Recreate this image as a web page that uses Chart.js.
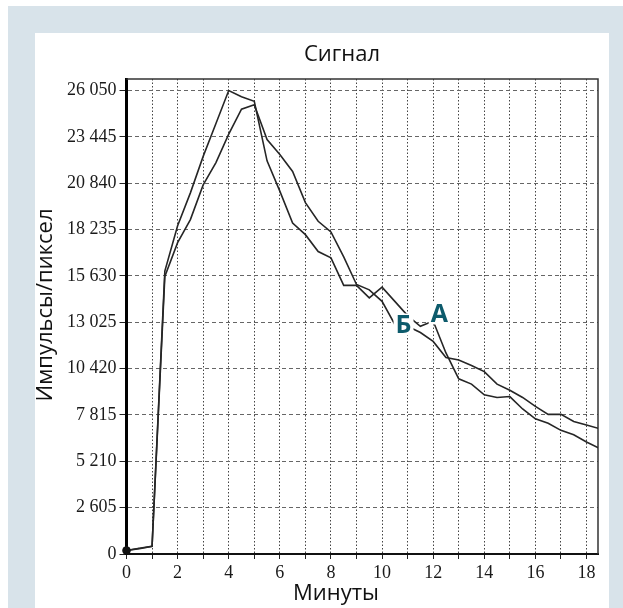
<!DOCTYPE html>
<html>
<head>
<meta charset="utf-8">
<script src="https://cdn.jsdelivr.net/npm/chart.js@4"></script>
<style>
    body { margin: 0; background: #fff; }
    #frame { position: absolute; left: 8px; top: 6px; width: 615px; height: 602px; background: #d8e3ea; }
    #panel { position: absolute; left: 35px; top: 33px; width: 574px; height: 575px; background: #fff; }
</style>
</head>
<body>
<div id="frame"></div>
<div id="panel"><canvas id="signalChart" width="574" height="575"></canvas></div>
<script>
// Minutes (shared x values for both curves)
const minutes = [0, 0.5, 1, 1.5, 2, 2.5, 3, 3.5, 4, 4.5, 5, 5.5, 6, 6.5, 7, 7.5, 8, 8.5, 9, 9.5,
    10, 10.5, 11, 11.5, 12, 12.5, 13, 13.5, 14, 14.5, 15, 15.5, 16, 16.5, 17, 17.5, 18, 18.5];

// Curve A - peaks at 4 min
const signalA = [200, 300, 430, 15900, 18450, 20300, 22350, 24200, 26050, 25700,
    25450, 22100, 20400, 18600, 17950, 17000, 16650, 15100, 15100, 14400,
    15000, 14200, 13400, 12800, 13100, 11300, 9850, 9550, 8950, 8800,
    8850, 8150, 7600, 7350, 6950, 6700, 6300, 5950];

// Curve B - peaks at 5 min
const signalB = [200, 320, 430, 15600, 17500, 18800, 20750, 22000, 23600, 25000,
    25250, 23300, 22450, 21500, 19750, 18700, 18100, 16700, 15150, 14850,
    14200, 12900, 12800, 12450, 11950, 11050, 10900, 10600, 10250, 9550,
    9200, 8800, 8300, 7850, 7850, 7450, 7250, 7050];

const yTicks = [0, 2605, 5210, 7815, 10420, 13025, 15630, 18235, 20840, 23445, 26050];
const xTicks = [0, 1, 2, 3, 4, 5, 6, 7, 8, 9, 10, 11, 12, 13, 14, 15, 16, 17, 18];

// Curve name labels, placed in data units
const curveNames = ['Б', 'А'];
const curveNameX = [10.84, 12.24];
const curveNameY = [12900, 13520];

function spaced(v) {
    return v.toString().replace(/\B(?=(\d{3})+(?!\d))/g, ' ');
}

const frameAndText = {
    id: 'frameAndText',
    beforeDatasetsDraw(chart) {
        const {ctx, chartArea: a} = chart;
        ctx.save();
        ctx.strokeStyle = '#333';
        ctx.lineWidth = 1.5;
        ctx.beginPath();
        ctx.moveTo(a.left, a.top);
        ctx.lineTo(a.right, a.top);
        ctx.lineTo(a.right, a.bottom);
        ctx.stroke();
        ctx.restore();
    },
    afterDatasetsDraw(chart) {
        const {ctx, scales} = chart;
        ctx.save();
        ctx.font = 'bold 25px "Open Sans"';
        ctx.textAlign = 'center';
        ctx.textBaseline = 'middle';
        curveNames.forEach((name, i) => {
            const px = scales.x.getPixelForValue(curveNameX[i]);
            const py = scales.y.getPixelForValue(curveNameY[i]);
            const w = ctx.measureText(name).width + 4;
            ctx.fillStyle = '#fff';
            ctx.fillRect(px - w / 2, py - 11, w, 22);
            ctx.fillStyle = '#0d5b6c';
            ctx.fillText(name, px, py + 1);
        });
        ctx.restore();
    },
    afterDraw(chart) {
        const ctx = chart.ctx;
        ctx.save();
        ctx.fillStyle = '#111';
        ctx.font = '22px "Open Sans"';
        ctx.textAlign = 'center';
        ctx.textBaseline = 'middle';
        ctx.fillText('Сигнал', 307, 22);
        ctx.fillText('Минуты', 301, 561);
        ctx.translate(11, 272);
        ctx.rotate(-Math.PI / 2);
        ctx.fillText('Импульсы/пиксел', 0, 0);
        ctx.restore();
    }
};

const ctx = document.getElementById('signalChart').getContext('2d');
const chart = new Chart(ctx, {
    type: 'line',
    data: {
        datasets: [{
            label: 'А',
            data: minutes.map((m, i) => ({x: m, y: signalA[i]})),
            borderColor: '#262626',
            borderWidth: 1.6,
            pointRadius: c => c.dataIndex === 0 ? 4 : 0,
            pointBackgroundColor: '#111',
            pointBorderWidth: 0,
            tension: 0,
            clip: {left: 8, top: 0, right: 0, bottom: 8}
        }, {
            label: 'Б',
            data: minutes.map((m, i) => ({x: m, y: signalB[i]})),
            borderColor: '#262626',
            borderWidth: 1.6,
            pointRadius: c => c.dataIndex === 0 ? 4 : 0,
            pointBackgroundColor: '#111',
            pointBorderWidth: 0,
            tension: 0,
            clip: {left: 8, top: 0, right: 0, bottom: 8}
        }]
    },
    options: {
        responsive: false,
        animation: false,
        layout: {
            padding: {top: 46, right: 11, left: 0, bottom: 0}
        },
        plugins: {
            legend: {display: false},
            tooltip: {enabled: false}
        },
        scales: {
            x: {
                type: 'linear',
                min: 0,
                max: 18.45,
                afterBuildTicks: s => { s.ticks = xTicks.map(v => ({value: v})); },
                afterFit: s => { s.height = 54; },
                ticks: {
                    autoSkip: false,
                    maxRotation: 0,
                    padding: 3,
                    color: '#1a1a1a',
                    font: {family: 'Liberation Serif', size: 18},
                    callback: v => v % 2 === 0 ? v : ''
                },
                grid: {
                    color: '#444',
                    lineWidth: 1,
                    tickLength: 5,
                    tickColor: '#222'
                },
                border: {color: '#111', width: 2, dash: [1.5, 2]}
            },
            y: {
                min: 0,
                max: 26700,
                afterBuildTicks: s => { s.ticks = yTicks.map(v => ({value: v})); },
                afterFit: s => { s.width = 91.5; },
                ticks: {
                    padding: 3,
                    color: '#1a1a1a',
                    font: {family: 'Liberation Serif', size: 18},
                    callback: v => spaced(v)
                },
                grid: {
                    color: '#666',
                    lineWidth: 1,
                    tickLength: 7,
                    tickColor: '#222'
                },
                border: {color: '#000', width: 3, dash: [4, 3]}
            }
        }
    },
    plugins: [frameAndText]
});
</script>
</body>
</html>
